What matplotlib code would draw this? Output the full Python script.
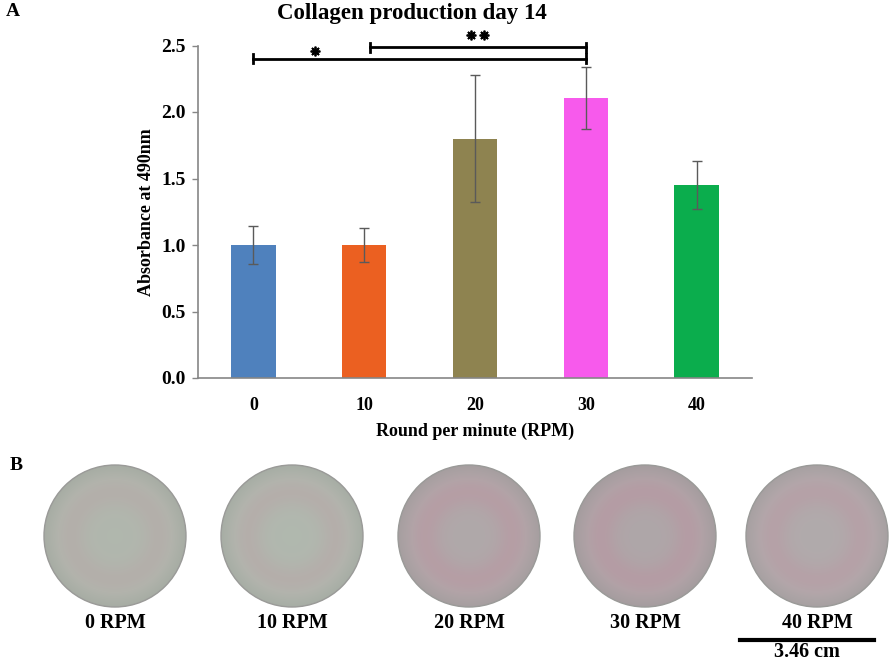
import matplotlib
matplotlib.use("Agg")
import matplotlib.pyplot as plt
import numpy as np
from matplotlib.patches import Circle

plt.rcParams['font.family'] = ['Liberation Serif', 'DejaVu Serif']
plt.rcParams['font.weight'] = 'bold'
plt.rcParams['axes.labelweight'] = 'bold'

# data
rpm = ['0', '10', '20', '30', '40']
absorbance = [1.0, 1.0, 1.80, 2.105, 1.45]
errors = [0.14, 0.13, 0.48, 0.235, 0.18]
bar_colors = ['#4F81BD', '#EB6021', '#8E8350', '#F75AEC', '#0BAD4D']

# significance brackets: (from index, to index, height, star x positions, star y)
brackets = [(0, 3, 2.40, [1.056], 2.455),
            (1.05, 3, 2.487, [2.46, 2.58], 2.58)]

# well photos (panel B)
well_labels = ['0 RPM', '10 RPM', '20 RPM', '30 RPM', '40 RPM']
well_base = ['#aab0a7', '#aab1a8', '#a9a2a3', '#a8a0a2', '#aaa4a5']
well_pink = [0.25, 0.30, 0.45, 0.45, 0.38]
scale_label = '3.46 cm'

fig = plt.figure(figsize=(8.92, 6.64), dpi=100)

# ---------- panel A ----------
ax = fig.add_axes([198 / 892, 1 - 378 / 664, 554 / 892, 332.5 / 664])
x = np.arange(len(rpm)) + 0.5
ax.bar(x, absorbance, width=0.4, color=bar_colors, zorder=2)
ax.errorbar(x, absorbance, yerr=errors, fmt='none', ecolor='#5a5a5a',
            elinewidth=1.0, capsize=3.5, capthick=1.0, zorder=3)
ax.set_xlim(0, 5)
ax.set_ylim(0, 2.5)
ax.set_yticks(np.arange(0, 2.51, 0.5))
ax.set_yticklabels([f'{v:.1f}' for v in np.arange(0, 2.51, 0.5)])
ax.set_xticks(x)
ax.set_xticklabels(rpm)
ax.tick_params(axis='x', length=0, pad=14, labelsize=13)
ax.tick_params(axis='y', length=4, width=1, color='#868686', labelsize=14, pad=5)
for s in ['top', 'right']:
    ax.spines[s].set_visible(False)
for s in ['left', 'bottom']:
    ax.spines[s].set_color('#868686')
    ax.spines[s].set_linewidth(1.2)

for i0, i1, h, sx, sy in brackets:
    x0, x1 = i0 + 0.5, i1 + 0.5
    ax.plot([x0, x1], [h, h], color='black', lw=2.0, clip_on=False, zorder=4)
    for xe in (x0, x1):
        ax.plot([xe, xe], [h - 0.035, h + 0.035], color='black', lw=2.0,
                clip_on=False, zorder=4)
    ax.plot(sx, [sy] * len(sx), linestyle='none', marker=(8, 2, 0),
            markersize=7, mew=1.3, color='black', clip_on=False, zorder=4)

ax.set_ylabel('Absorbance at 490nm', fontsize=13, labelpad=4)
ax.set_xlabel('Round per minute (RPM)', fontsize=13, labelpad=6)
fig.text(412 / 892, 1 - 13 / 664, 'Collagen production day 14',
         ha='center', va='center', fontsize=16.5)
fig.text(6 / 892, 1 - 12 / 664, 'A', ha='left', va='center', fontsize=14)
fig.text(10 / 892, 1 - 466 / 664, 'B', ha='left', va='center', fontsize=14)

# ---------- panel B ----------
axb = fig.add_axes([0, 0, 1, 1], zorder=-1)
axb.set_xlim(0, 892)
axb.set_ylim(664, 0)
axb.axis('off')

centers = [115, 292, 469, 645, 817]
cy, r = 536, 71
yy, xx = np.mgrid[-1:1:200j, -1:1:200j]
rr = np.sqrt(xx ** 2 + yy ** 2)
ring = np.exp(-((rr - 0.62) / 0.22) ** 2)
edge = np.clip((rr - 0.8) / 0.2, 0, 1)
pink = np.array(matplotlib.colors.to_rgb('#c97a95'))
for cx, base, pk, lab in zip(centers, well_base, well_pink, well_labels):
    rgb = np.array(matplotlib.colors.to_rgb(base))
    img = rgb[None, None, :] * (1.04 - 0.06 * edge[..., None])
    img = img * (1 - pk * 0.5 * ring[..., None]) + pink * pk * 0.5 * ring[..., None]
    img = np.clip(img, 0, 1)
    im = axb.imshow(img, extent=[cx - r, cx + r, cy + r, cy - r], zorder=1)
    clip = Circle((cx, cy), r, transform=axb.transData)
    im.set_clip_path(clip)
    axb.add_patch(Circle((cx, cy), r, fill=False, edgecolor='#9a9a98', lw=1.0, zorder=2))
    axb.text(cx, 623, lab, ha='center', va='center', fontsize=14.5)

axb.plot([740, 874], [640, 640], color='black', lw=3)
axb.text(807, 652, scale_label, ha='center', va='center', fontsize=14.5)

fig.savefig('out.png', dpi=100)
